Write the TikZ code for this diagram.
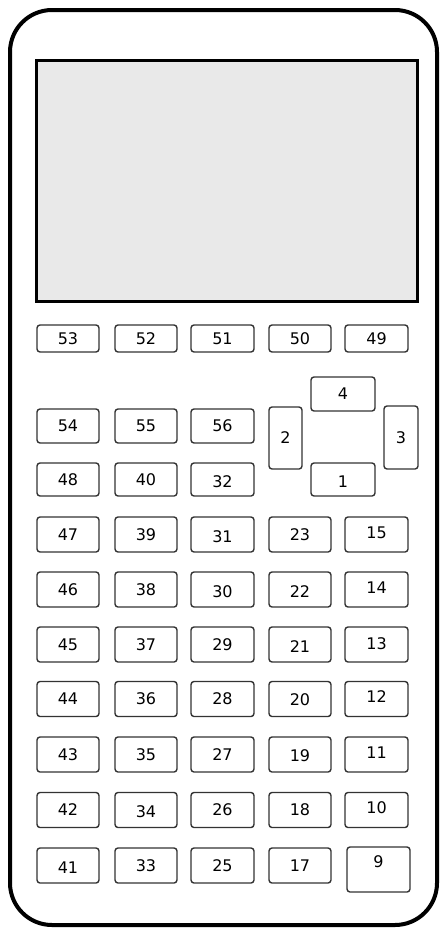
\documentclass[tikz,border=0pt]{standalone}
\usepackage{fontspec}
\setmainfont{DejaVu Sans}
\definecolor{screenfill}{HTML}{E9E9E9}
\tikzset{
  keybox/.style={draw=black!80, line width=1.4pt, rounded corners=3pt, fill=white, inner sep=0pt},
  keytext/.style={font=\fontsize{16}{16}\selectfont, inner sep=0pt},
}
\newcommand\calckey[6]{%
  \node[keybox, minimum width=#4pt, minimum height=#5pt] (k#1) at (#2,#3) {};
  \node[keytext] (t#1) at ([yshift=#6pt]k#1.center) {#1};}
\begin{document}
\begin{tikzpicture}[x=1pt,y=-1pt]
\useasboundingbox (0,0) rectangle (440,929);
% body
\draw[line width=4pt, rounded corners=42pt] (10,10) rectangle (437,925);
% screen
\draw[line width=3pt, fill=screenfill] (36,60) rectangle (417,301.5);
% top row
\calckey{53}{68}{338.5}{62}{27}{0}
\calckey{52}{146}{338.5}{62}{27}{0}
\calckey{51}{222.5}{338.5}{63}{27}{0}
\calckey{50}{300}{338.5}{62}{27}{0}
\calckey{49}{376.5}{338.5}{63}{27}{0}
% second block
\calckey{54}{68}{426}{62}{34}{0}
\calckey{55}{146}{426}{62}{34}{0}
\calckey{56}{222.5}{426}{63}{34}{0}
\calckey{48}{68}{479.5}{62}{33}{0}
\calckey{40}{146}{479.5}{62}{33}{0}
\calckey{32}{222.5}{479.5}{63}{33}{-2}
% arrows
\calckey{4}{343}{394}{64}{34}{0}
\calckey{2}{285.5}{438}{33}{62}{0}
\calckey{3}{401}{437.5}{34}{63}{0}
\calckey{1}{343}{479.5}{64}{33}{-2}
% main grid
\calckey{47}{68}{534.5}{62}{35}{0}
\calckey{39}{146}{534.5}{62}{35}{0}
\calckey{31}{222.5}{534.5}{63}{35}{-2}
\calckey{23}{300}{534.5}{62}{35}{0}
\calckey{15}{376.5}{534.5}{63}{35}{2}
\calckey{46}{68}{589.5}{62}{35}{0}
\calckey{38}{146}{589.5}{62}{35}{0}
\calckey{30}{222.5}{589.5}{63}{35}{-2}
\calckey{22}{300}{589.5}{62}{35}{-2}
\calckey{14}{376.5}{589.5}{63}{35}{2}
\calckey{45}{68}{644.5}{62}{35}{0}
\calckey{37}{146}{644.5}{62}{35}{0}
\calckey{29}{222.5}{644.5}{63}{35}{0}
\calckey{21}{300}{644.5}{62}{35}{-2}
\calckey{13}{376.5}{644.5}{63}{35}{1}
\calckey{44}{68}{699}{62}{35}{0}
\calckey{36}{146}{699}{62}{35}{0}
\calckey{28}{222.5}{699}{63}{35}{0}
\calckey{20}{300}{699}{62}{35}{-1}
\calckey{12}{376.5}{699}{63}{35}{2}
\calckey{43}{68}{754.5}{62}{35}{0}
\calckey{35}{146}{754.5}{62}{35}{0}
\calckey{27}{222.5}{754.5}{63}{35}{0}
\calckey{19}{300}{754.5}{62}{35}{-1}
\calckey{11}{376.5}{754.5}{63}{35}{2}
\calckey{42}{68}{810}{62}{35}{0}
\calckey{34}{146}{810}{62}{35}{-2}
\calckey{26}{222.5}{810}{63}{35}{0}
\calckey{18}{300}{810}{62}{35}{0}
\calckey{10}{376.5}{810}{63}{35}{2}
\calckey{41}{68}{865.5}{62}{35}{-2}
\calckey{33}{146}{865.5}{62}{35}{0}
\calckey{25}{222.5}{865.5}{63}{35}{0}
\calckey{17}{300}{865.5}{62}{35}{0}
% key 9
\node[keybox, minimum width=63pt, minimum height=45pt] (k9) at (378.5,869.5) {};
\node[keytext] (t9) at ([yshift=-15pt]k9.north) {9};
\end{tikzpicture}
\end{document}
